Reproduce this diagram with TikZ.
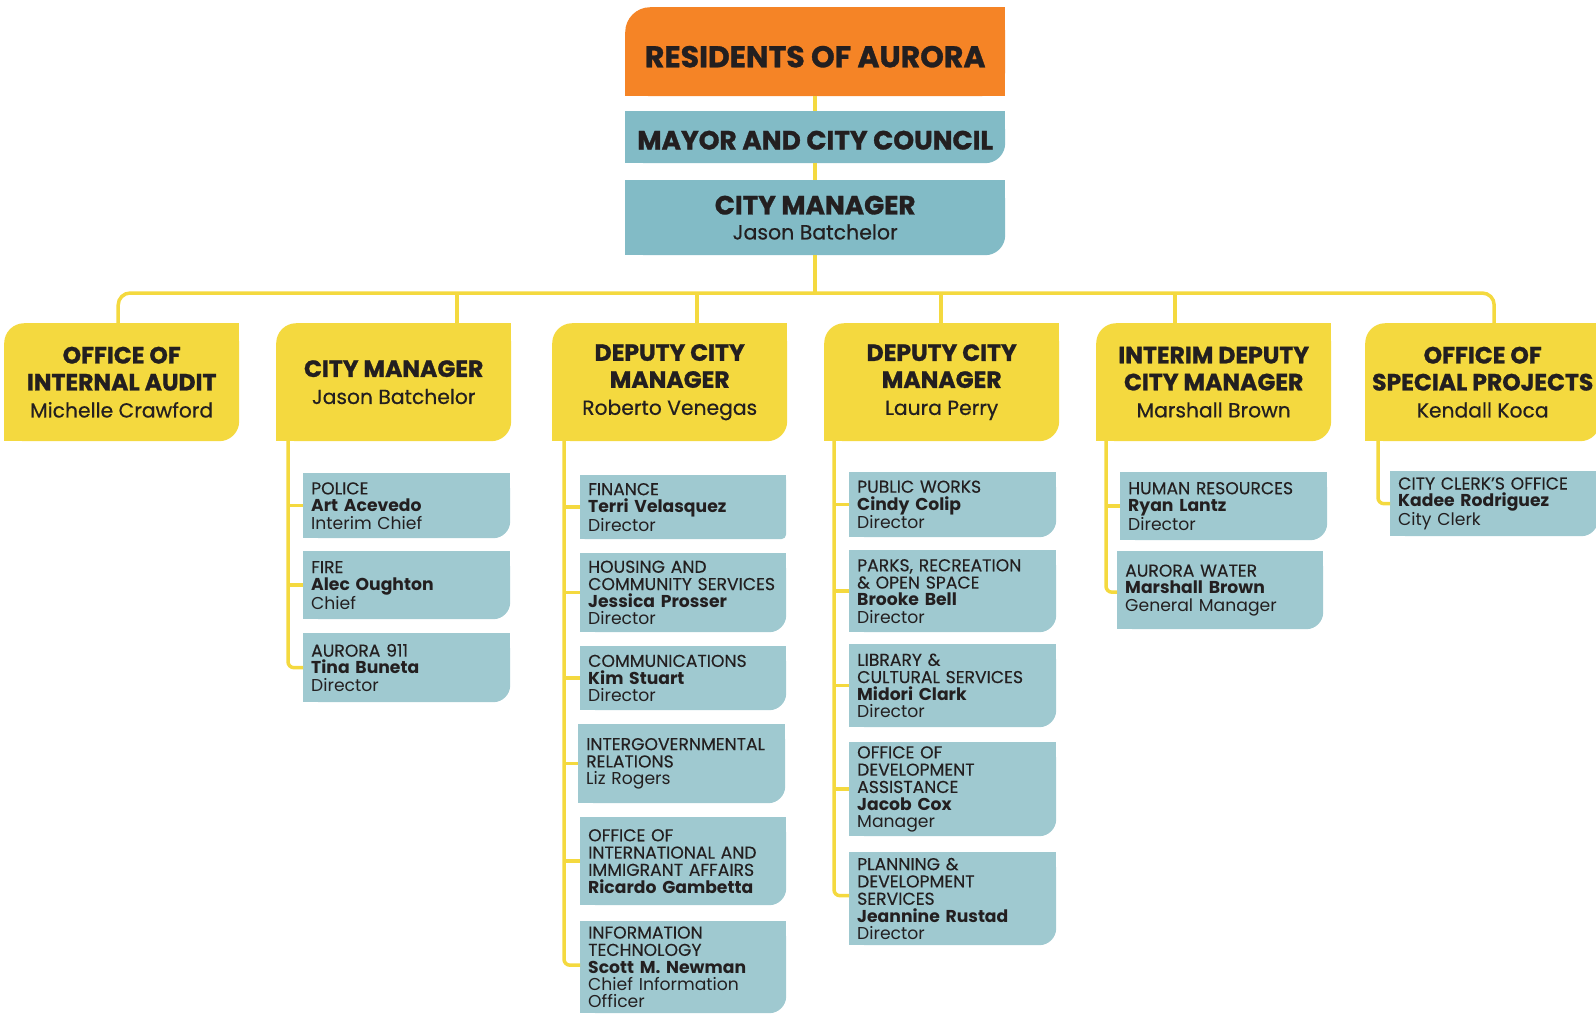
\documentclass[tikz,border=0pt]{standalone}
\usepackage{fontspec}
\setmainfont{Poppins}
\newfontfamily\pmed{Poppins}[FakeBold=0.5]
\newfontfamily\pdept{Poppins}[FakeBold=0.25]
\newfontfamily\phead{Poppins}[BoldFeatures={FakeBold=1.1}]
\usetikzlibrary{backgrounds}
\definecolor{orng}{HTML}{F58426}
\definecolor{topteal}{HTML}{82BBC6}
\definecolor{subteal}{HTML}{9FC9D0}
\definecolor{yel}{HTML}{F4D93F}
\definecolor{ink}{HTML}{231F20}
\newcommand\fixNE[3]{\fill[#2] (#1.north east) rectangle ++(-#3,-#3);}
\newcommand\fixNW[3]{\fill[#2] (#1.north west) rectangle ++(#3,-#3);}
\newcommand\fixSW[3]{\fill[#2] (#1.south west) rectangle ++(#3,#3);}
\newcommand\fixSE[3]{\fill[#2] (#1.south east) rectangle ++(-#3,#3);}
\newcommand\hd[1]{{\phead\bfseries #1}}
\newcommand\nm[1]{{\fontsize{20.3}{27}\selectfont\pmed #1}}
\newcommand\dpt[1]{{\pdept #1}}
\begin{document}
\begin{tikzpicture}[x=1pt,y=1pt,
  conn/.style={draw=yel, line width=3.5pt},
  topbox/.style={anchor=north west, inner sep=0pt, text=ink, align=center, minimum width=380pt},
  ybox/.style={anchor=north west, fill=yel, inner sep=0pt, text=ink, align=center,
    minimum width=235pt, minimum height=118pt, rounded corners=20pt,
    font=\fontsize{23.5}{27}\selectfont},
  sub/.style={anchor=north west, fill=subteal, text=ink, inner xsep=8pt, inner ysep=0pt,
    align=left, rounded corners=17pt, text width=191pt,
    font=\fontsize{17.2}{17.3}\selectfont}]
\useasboundingbox (0,0) rectangle (1596,-1013);

% top chain
\node[topbox, fill=orng, minimum height=89pt, rounded corners=25pt,
  font=\fontsize{30}{32}\selectfont\phead\bfseries] (res) at (625,-7) {\raisebox{-5pt}[\height][\depth]{RESIDENTS OF AURORA}};
\node[topbox, fill=topteal, minimum height=52pt, rounded corners=20pt,
  font=\fontsize{26.4}{28}\selectfont\phead\bfseries] (mayor) at (625,-111) {\raisebox{-3pt}[\height][\depth]{MAYOR AND CITY COUNCIL}};
\node[topbox, fill=topteal, minimum height=75pt, rounded corners=20pt,
  font=\fontsize{26.3}{25}\selectfont] (cm) at (625,-180) {\hd{CITY MANAGER}\\{\fontsize{20.5}{25}\selectfont\pmed Jason Batchelor}};

% yellow row
\node[ybox] (ia) at (4,-323) {\hd{OFFICE OF}\\\hd{INTERNAL AUDIT}\\\nm{Michelle Crawford}};
\node[ybox] (cmy) at (276,-323) {\hd{CITY MANAGER}\\\nm{Jason Batchelor}};
\node[ybox] (rv) at (552,-323) {\hd{DEPUTY CITY}\\\hd{MANAGER}\\\nm{Roberto Venegas}};
\node[ybox] (lp) at (824,-323) {\hd{DEPUTY CITY}\\\hd{MANAGER}\\\nm{Laura Perry}};
\node[ybox] (idm) at (1096,-323) {\hd{INTERIM DEPUTY}\\\hd{CITY MANAGER}\\\nm{Marshall Brown}};
\node[ybox] (osp) at (1365,-323) {\hd{OFFICE OF}\\\hd{SPECIAL PROJECTS}\\\nm{Kendall Koca}};

% city manager column
\node[sub, minimum height=65pt] (police) at (303,-473) {\dpt{POLICE}\\\textbf{Art Acevedo}\\Interim Chief};
\node[sub, minimum height=68pt] (fire) at (303,-551) {\dpt{FIRE}\\\textbf{Alec Oughton}\\Chief};
\node[sub, minimum height=69pt] (a911) at (303,-633) {\dpt{AURORA 911}\\\textbf{Tina Buneta}\\Director};

% deputy RV column
\node[sub, text width=190pt, minimum height=64pt, rounded corners=5pt] (fin) at (580,-475) {\dpt{FINANCE}\\\textbf{Terri Velasquez}\\Director};
\node[sub, text width=190pt, minimum height=79pt] (hous) at (580,-553) {\dpt{HOUSING AND}\\\dpt{COMMUNITY SERVICES}\\\textbf{Jessica Prosser}\\Director};
\node[sub, text width=190pt, minimum height=64pt] (comm) at (580,-646) {\dpt{COMMUNICATIONS}\\\textbf{Kim Stuart}\\Director};
\node[sub, minimum height=79pt] (intg) at (578,-724) {\dpt{INTERGOVERNMENTAL}\\\dpt{RELATIONS}\\Liz Rogers};
\node[sub, text width=190pt, minimum height=88pt] (intl) at (580,-817) {\dpt{OFFICE OF}\\\dpt{INTERNATIONAL AND}\\\dpt{IMMIGRANT AFFAIRS}\\\textbf{Ricardo Gambetta}};
\node[sub, text width=190pt, minimum height=92pt] (it) at (580,-921) {\dpt{INFORMATION}\\\dpt{TECHNOLOGY}\\\textbf{Scott M. Newman}\\Chief Information\\Officer};

% deputy LP column
\node[sub, minimum height=65pt] (pw) at (849,-472) {\dpt{PUBLIC WORKS}\\\textbf{Cindy Colip}\\Director};
\node[sub, minimum height=82pt] (parks) at (849,-550) {\dpt{PARKS, RECREATION}\\\dpt{\& OPEN SPACE}\\\textbf{Brooke Bell}\\Director};
\node[sub, minimum height=83pt] (lib) at (849,-644) {\dpt{LIBRARY \&}\\\dpt{CULTURAL SERVICES}\\\textbf{Midori Clark}\\Director};
\node[sub, minimum height=94pt] (oda) at (849,-742) {\dpt{OFFICE OF}\\\dpt{DEVELOPMENT}\\\dpt{ASSISTANCE}\\\textbf{Jacob Cox}\\Manager};
\node[sub, minimum height=93pt] (plan) at (849,-852) {\dpt{PLANNING \&}\\\dpt{DEVELOPMENT}\\\dpt{SERVICES}\\\textbf{Jeannine Rustad}\\Director};

% interim column
\node[sub, minimum height=68pt] (hr) at (1120,-472) {\dpt{HUMAN RESOURCES}\\\textbf{Ryan Lantz}\\Director};
\node[sub, text width=190pt, minimum height=78pt] (aw) at (1117,-551) {\dpt{AURORA WATER}\\\textbf{Marshall Brown}\\General Manager};

% special projects column
\node[sub, text width=192pt, minimum height=65pt] (clerk) at (1390,-471) {\dpt{CITY CLERK’S OFFICE}\\\textbf{Kadee Rodriguez}\\City Clerk};

% square off the corners that are not rounded
\begin{pgfonlayer}{background}
\fixNE{res}{orng}{25}\fixSE{res}{orng}{25}\fixSW{res}{orng}{25}
\foreach \n in {mayor,cm}{\fixNW{\n}{topteal}{20}\fixNE{\n}{topteal}{20}\fixSW{\n}{topteal}{20}}
\foreach \n in {ia,cmy,rv,lp,idm,osp}{\fixNE{\n}{yel}{20}\fixSW{\n}{yel}{20}}
\foreach \n in {police,fire,a911,fin,hous,comm,intg,intl,it,pw,parks,lib,oda,plan,hr,aw,clerk}{\fixNW{\n}{subteal}{17}\fixNE{\n}{subteal}{17}\fixSW{\n}{subteal}{17}}
\end{pgfonlayer}

% connectors: top chain
\coordinate (hub) at (812,-293);
\draw[conn] (res.south) -- (mayor.north);
\draw[conn] (mayor.south) -- (cm.north);
\draw[conn] (cm.south) -- (cm.south |- hub);
\draw[conn, rounded corners=12pt] ([xshift=-3.5pt]ia.north) |- (hub) -| ([xshift=11.5pt]osp.north);
\coordinate (dcm) at (457,-293);
\coordinate (drv) at (697,-293);
\coordinate (dlp) at (941,-293);
\coordinate (didm) at (1175,-293);
\draw[conn] (dcm) -- (dcm |- cmy.north);
\draw[conn] (drv) -- (drv |- rv.north);
\draw[conn] (dlp) -- (dlp |- lp.north);
\draw[conn] (didm) -- (didm |- idm.north);

% connectors: sub-branches
\coordinate (bcm) at (288,-441);
\draw[conn, rounded corners=6pt] (bcm) |- (a911.west);
\draw[conn] (bcm |- police.west) -- (police.west);
\draw[conn] (bcm |- fire.west) -- (fire.west);

\coordinate (brv) at (564,-441);
\draw[conn, rounded corners=6pt] (brv) |- ([yshift=2pt]it.west);
\foreach \n/\s in {fin/2,hous/-1,comm/-4,intg/5,intl/2}{
  \draw[conn, yshift=\s pt] (brv |- \n.west) -- (\n.west);}

\coordinate (blp) at (834,-441);
\draw[conn, rounded corners=6pt] (blp) |- ([yshift=3pt]plan.west);
\foreach \n/\s in {pw/0,parks/4,lib/6,oda/2}{
  \draw[conn, yshift=\s pt] (blp |- \n.west) -- (\n.west);}

\coordinate (bidm) at (1106,-441);
\draw[conn, rounded corners=6pt] (bidm) |- ([yshift=-2pt]aw.west);
\draw[conn, yshift=8pt] (bidm |- hr.west) -- (hr.west);

\coordinate (bosp) at (1378,-441);
\draw[conn, rounded corners=6pt] (bosp) |- (clerk.west);
\end{tikzpicture}
\end{document}
